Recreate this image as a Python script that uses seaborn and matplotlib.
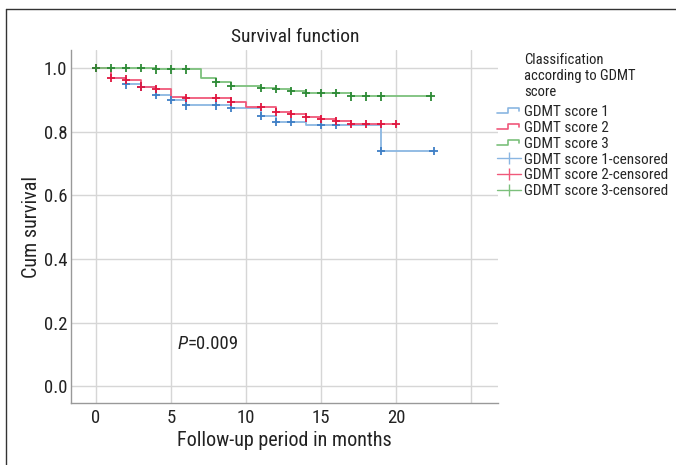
"""
Kaplan-Meier 生存曲线（按 GDMT score 分组）
"""

import numpy as np
import pandas as pd
import matplotlib
matplotlib.use('Agg')
import matplotlib.pyplot as plt
import seaborn as sns
from matplotlib.lines import Line2D
from matplotlib.legend_handler import HandlerBase

sns.set_style('white')
plt.rcParams['font.family'] = ['Liberation Sans Narrow', 'Roboto Condensed', 'DejaVu Sans']

# ========== 数据 ==========
groups = ['GDMT score 1', 'GDMT score 2', 'GDMT score 3']

# 事件时间及对应的累计生存率（阶梯函数）
score1_time = [0, 1, 2, 3, 4, 5, 6, 9, 11, 12, 14, 19, 22.5]
score1_surv = [1.0, 0.970, 0.949, 0.940, 0.917, 0.900, 0.883, 0.875, 0.850, 0.830, 0.822, 0.739, 0.739]

score2_time = [0, 1, 2, 3, 4, 5, 6, 9, 10, 12, 13, 14, 15, 16, 17, 20]
score2_surv = [1.0, 0.968, 0.964, 0.942, 0.934, 0.909, 0.906, 0.895, 0.877, 0.861, 0.855, 0.845, 0.841, 0.834, 0.824, 0.824]

score3_time = [0, 4, 7, 8, 9, 11, 12, 13, 14, 17, 22.3]
score3_surv = [1.0, 0.996, 0.968, 0.955, 0.944, 0.938, 0.934, 0.928, 0.921, 0.911, 0.911]

# 删失时间
score1_censored = [2, 3, 4, 5, 6, 8, 9, 11, 12, 13, 15, 16, 19, 22.5]
score2_censored = [0, 1, 2, 3, 4, 6, 8, 9, 11, 12, 13, 14, 15, 16, 17, 18, 19, 20]
score3_censored = [0, 1, 2, 3, 4, 5, 6, 8, 9, 11, 12, 13, 14, 15, 16, 17, 18, 19, 22.3]

p_text = '=0.009'

line_colors = ['#8ab6e2', '#f0587a', '#7cc07c']
mark_colors = ['#3f7fc6', '#e0163f', '#2d8a36']

# ========== 整理成长表 ==========
curve_rows = []
cens_rows = []
for g, t, s, c in zip(groups,
                      [score1_time, score2_time, score3_time],
                      [score1_surv, score2_surv, score3_surv],
                      [score1_censored, score2_censored, score3_censored]):
    for ti, si in zip(t, s):
        curve_rows.append((g, ti, si))
    t_arr = np.array(t)
    for ci in c:
        idx = np.searchsorted(t_arr, ci, side='right') - 1
        cens_rows.append((g, ci, s[idx]))

curve_df = pd.DataFrame(curve_rows, columns=['group', 'time', 'surv'])
cens_df = pd.DataFrame(cens_rows, columns=['group', 'time', 'surv'])

# ========== 绘图 ==========
fig = plt.figure(figsize=(6.76, 4.65), dpi=100)
ax = fig.add_axes([71 / 676, 62 / 465, 427 / 676, 353 / 465])

sns.lineplot(data=curve_df, x='time', y='surv', hue='group', hue_order=groups,
             palette=line_colors, drawstyle='steps-post', estimator=None,
             sort=False, legend=False, linewidth=1.3, ax=ax)
sns.scatterplot(data=cens_df, x='time', y='surv', hue='group', hue_order=groups,
                palette=mark_colors, marker='+', s=36, linewidth=1.3,
                legend=False, ax=ax, zorder=3)

ax.set_xlim(-1.67, 26.8)
ax.set_ylim(-0.053, 1.057)
ax.set_xticks([0, 5, 10, 15, 20, 25])
ax.set_xticklabels(['0', '5', '10', '15', '20', ''])
ax.set_yticks([0.0, 0.2, 0.4, 0.6, 0.8, 1.0])
ax.set_yticklabels(['0.0', '0.2', '0.4', '0.6', '0.8', '1.0'])
ax.tick_params(axis='both', length=0, labelsize=13.5, colors='#222222', pad=4)
ax.tick_params(axis='y', pad=2.5)
ax.grid(True, color='#d6d6d6', linewidth=1.0)
ax.set_axisbelow(True)
for side in ['top', 'right']:
    ax.spines[side].set_visible(False)
for side in ['left', 'bottom']:
    ax.spines[side].set_color('#999999')
    ax.spines[side].set_linewidth(1.0)

ax.set_xlabel('Follow-up period in months', fontsize=14.5, color='#222222', labelpad=3)
ax.set_ylabel('Cum survival', fontsize=14.5, color='#222222', labelpad=2)
fig.text(295 / 676, 1 - 37 / 465, 'Survival function', ha='center', va='center',
         fontsize=14, color='#222222')

# P 值
ax.text(6.13, 0.132, 'P', style='italic', ha='right', va='center', fontsize=13.5, color='#222222')
ax.text(6.13, 0.132, p_text, ha='left', va='center', fontsize=13.5, color='#222222')


# 图例：阶梯形图标
class StepHandler(HandlerBase):
    def create_artists(self, legend, orig_handle, xdescent, ydescent, width, height, fontsize, trans):
        x0, w = -xdescent, width
        y0, h = -ydescent, height
        xs = [x0, x0 + 0.45 * w, x0 + 0.45 * w, x0 + 0.95 * w, x0 + 0.95 * w]
        ys = [y0 + 0.25 * h, y0 + 0.25 * h, y0 + 0.75 * h, y0 + 0.75 * h, y0 + 0.45 * h]
        ln = Line2D(xs, ys, color=orig_handle.get_color(), lw=1.2, transform=trans)
        return [ln]


handles = [Line2D([], [], color=c) for c in line_colors]
handles += [Line2D([], [], color=c, lw=1.0, marker='|', markersize=9, mew=1.0)
            for c in line_colors]
labels = groups + [g + '-censored' for g in groups]
handler_map = {h: StepHandler() for h in handles[:3]}
fig.legend(handles, labels, handler_map=handler_map, loc='upper left',
           bbox_to_anchor=(497 / 676, 1 - 105 / 465), frameon=False,
           borderpad=0, borderaxespad=0, handlelength=1.55, handletextpad=0.2,
           labelspacing=0.12, fontsize=11, numpoints=1)
fig.text(524 / 676, 1 - 53 / 465, 'Classification\naccording to GDMT\nscore',
         ha='left', va='top', fontsize=10.5, linespacing=1.2, color='#222222')

# 外框
fig.add_artist(Line2D([6 / 676, 6 / 676], [0, 1 - 9 / 465], color='#333333', lw=1.0))
fig.add_artist(Line2D([6 / 676, 1], [1 - 9 / 465, 1 - 9 / 465], color='#333333', lw=1.0))

fig.savefig('out.png', dpi=100)
